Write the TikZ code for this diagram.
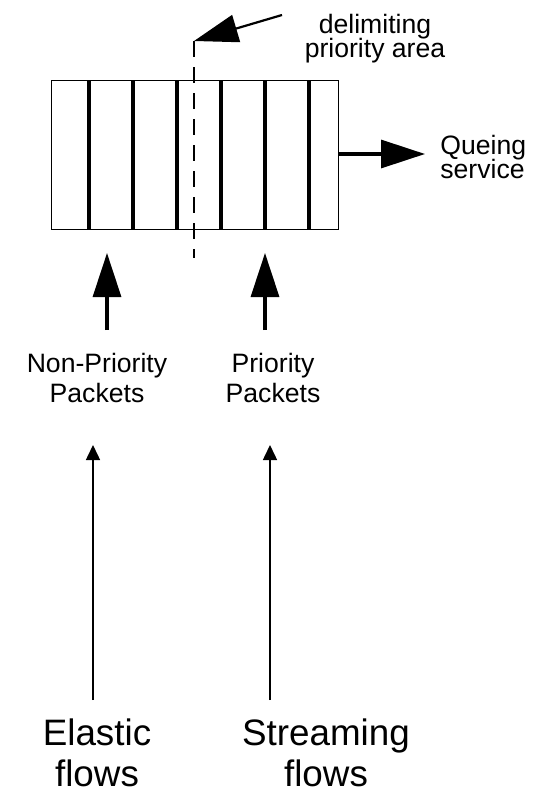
\documentclass[tikz,border=0pt]{standalone}
\usepackage{fontspec}
\setmainfont{Liberation Sans}
\usetikzlibrary{arrows.meta,positioning}
\tikzset{>=Stealth}
\tikzset{
	bar/.style={line width=1.8pt},
	fat arrow/.style={-{Triangle[length=22pt,width=14pt]},line width=1.6pt},
	thin arrow/.style={-{Triangle[length=7.5pt,width=7pt]},line width=0.75pt},
	small label/.style={font=\fontsize{13.3}{15}\selectfont,align=center,inner sep=0pt},
	big label/.style={font=\fontsize{18.4}{20.5}\selectfont,align=center,inner sep=0pt},
}

\begin{document}
\begin{tikzpicture}[x=0.5pt,y=-0.5pt]
				\useasboundingbox (0,0) rectangle (536,793);
				\coordinate (Q1) at (51,80);
				\coordinate (Q2) at (338,229);
				\coordinate (D) at (194,41);
				\coordinate (E) at (194,258);
				\coordinate (F) at (282,15);
				\coordinate (S1) at (338,154);
				\coordinate (S2) at (425,154);
				% the queue and its packets
				\draw[line width=0.5pt] (Q1) rectangle (Q2);
				\foreach \x in {89,133,177,221,265,309}
					\draw[bar] (\x,80) -- (\x,229);
				\draw[line width=1pt,dash pattern=on 8pt off 5pt] (D)--(E);
				\draw[fat arrow,line width=1.1pt] (F)--(D);
				\draw[fat arrow] (S1)--(S2);
				\node[small label,anchor=base] (delim) at (375,57) {delimiting\\[-3pt]priority area};
				\node[small label,align=left,anchor=base west] (serv) at (440,178) {Queing\\[-3pt]service};
				% packets entering the queue
				\coordinate (A1) at (107,330);
				\coordinate (A2) at (107,253);
				\coordinate (B1) at (265,330);
				\coordinate (B2) at (265,253);
				\draw[fat arrow] (A1)--(A2);
				\draw[fat arrow] (B1)--(B2);
				\node[small label,anchor=base] (np) at (97,402) {Non-Priority\\Packets};
				\node[small label,anchor=base] (pr) at (273,402) {Priority\\Packets};
				% the flows
				\coordinate (C1) at (93,700);
				\coordinate (C2) at (93,445);
				\coordinate (G1) at (270,700);
				\coordinate (G2) at (270,445);
				\draw[thin arrow] (C1)--(C2);
				\draw[thin arrow] (G1)--(G2);
				\node[big label,anchor=base] (el) at (97,786) {Elastic\\flows};
				\node[big label,anchor=base] (st) at (326,786) {Streaming\\flows};
\end{tikzpicture}
\end{document}
